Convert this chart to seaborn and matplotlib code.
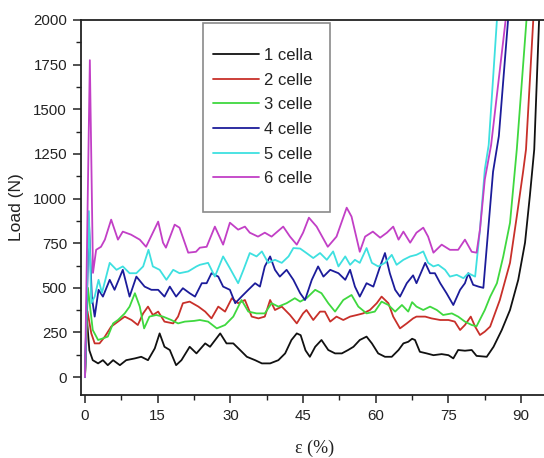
import numpy as np
import pandas as pd
import matplotlib
matplotlib.use("Agg")
import matplotlib.pyplot as plt
from matplotlib.patches import Rectangle
from matplotlib.ticker import MultipleLocator
import seaborn as sns

# ---- compression curves: strain (%) vs load (N) ----
series_names = ["1 cella", "2 celle", "3 celle", "4 celle", "5 celle", "6 celle"]

strain_1 = [0, 0.3, 0.9, 1.6, 2.7, 3.7, 4.7, 5.8, 7.2, 8.5, 10.3, 11.6, 13.0, 14.4, 15.4, 16.4, 17.5, 18.8,
            19.9, 21.6, 23.0, 24.8, 25.8, 27.9, 29.2, 30.6, 32.0, 33.4, 35.1, 36.5, 38.2, 39.9, 41.3, 42.6,
            43.7, 44.5, 45.5, 46.4, 47.5, 48.8, 50.2, 51.6, 53.0, 54.3, 55.4, 56.7, 58.1, 59.2, 60.5, 61.9,
            63.3, 64.7, 65.7, 66.7, 67.5, 68.1, 69.1, 70.5, 71.9, 73.6, 75.0, 76.0, 77.0, 78.4, 79.8, 80.8,
            82.9, 84.3, 86.0, 87.7, 89.4, 90.8, 91.8, 92.7, 93.7]
load_1 = [0, 360, 150, 95, 77, 95, 67, 95, 67, 95, 105, 114, 95, 161, 245, 170, 152, 67,
          95, 170, 133, 189, 170, 245, 189, 189, 152, 114, 95, 77, 77, 95, 133, 208,
          245, 235, 150, 114, 170, 208, 152, 133, 133, 152, 170, 208, 227, 189, 133, 114,
          114, 152, 189, 198, 215, 208, 142, 133, 123, 129, 123, 105, 152, 148, 152, 119,
          114, 170, 264, 376, 545, 753, 1016, 1275, 2000]

strain_2 = [0, 0.5, 1.3, 2.0, 3.0, 4.1, 5.4, 6.8, 8.2, 9.6, 10.9, 12.0, 13.0, 14.0, 15.1, 16.4, 18.2, 19.2,
            20.2, 21.6, 23.4, 24.8, 26.1, 27.5, 28.9, 30.3, 31.6, 33.0, 34.4, 35.8, 37.1, 38.2, 39.2, 40.6,
            42.3, 43.7, 45.0, 45.7, 47.1, 48.5, 49.5, 50.6, 51.9, 53.3, 54.7, 56.1, 57.4, 58.8, 60.2, 61.2,
            62.6, 63.6, 65.0, 66.4, 67.7, 68.4, 70.2, 71.5, 73.3, 75.0, 76.3, 77.4, 78.4, 79.6, 80.5, 81.5,
            82.5, 83.6, 85.6, 87.7, 89.1, 90.4, 91.0, 92.5]
load_2 = [0, 370, 245, 189, 189, 227, 283, 311, 339, 320, 292, 357, 395, 348, 367, 311, 301, 339,
          414, 423, 395, 367, 329, 395, 367, 442, 414, 432, 339, 329, 339, 432, 376, 395,
          348, 301, 357, 376, 320, 367, 367, 311, 339, 320, 339, 348, 357, 376, 414, 451,
          414, 339, 273, 301, 329, 339, 339, 329, 320, 320, 311, 264, 292, 339, 283, 236,
          255, 283, 432, 640, 900, 1150, 1275, 2000]

strain_3 = [0, 0.6, 1.6, 2.7, 3.7, 4.7, 5.8, 6.8, 8.2, 9.2, 10.3, 11.3, 12.2, 13.3, 14.7, 16.1, 17.8, 19.2,
            20.6, 22.5, 23.7, 25.4, 27.2, 28.9, 30.6, 32.3, 33.7, 35.4, 37.1, 38.5, 39.9, 41.6, 43.3, 44.4,
            45.7, 47.5, 48.8, 50.2, 51.6, 53.3, 55.0, 56.4, 58.1, 59.8, 61.2, 62.6, 64.0, 65.4, 66.7, 67.5,
            68.4, 69.8, 71.2, 72.6, 73.9, 75.7, 77.0, 78.4, 79.8, 80.8, 82.5, 83.6, 85.0, 86.3, 87.7, 89.1,
            91.1]
load_3 = [0, 500, 264, 208, 217, 227, 301, 320, 357, 395, 470, 395, 273, 339, 348, 339, 320, 301,
          311, 315, 320, 311, 273, 292, 339, 432, 367, 357, 357, 414, 395, 414, 442, 423,
          442, 489, 470, 414, 367, 432, 460, 395, 357, 367, 423, 404, 367, 404, 367, 420,
          395, 376, 395, 376, 348, 357, 339, 311, 292, 285, 376, 450, 526, 675, 864, 1275,
          2000]

strain_4 = [0, 0.8, 1.4, 2.0, 2.8, 3.7, 5.1, 6.1, 7.8, 9.2, 10.6, 12.3, 13.7, 15.1, 16.4, 17.5, 18.8, 20.2,
            21.6, 22.7, 24.1, 25.1, 26.1, 27.5, 28.5, 29.9, 31.0, 32.3, 33.7, 35.1, 36.1, 37.1, 38.2, 39.2,
            40.2, 41.6, 43.0, 44.4, 45.4, 46.8, 48.1, 49.2, 50.6, 52.3, 53.7, 54.7, 55.7, 56.7, 58.1, 59.5,
            60.9, 61.9, 62.9, 64.0, 65.0, 66.4, 67.7, 68.4, 70.2, 71.2, 72.2, 73.3, 74.6, 76.0, 77.4, 78.4,
            79.1, 80.1, 81.2, 82.2, 84.2, 85.4, 87.3]
load_4 = [0, 880, 450, 339, 489, 451, 545, 489, 601, 451, 563, 507, 489, 489, 451, 507, 451, 498,
          470, 451, 526, 526, 582, 563, 507, 489, 414, 451, 489, 526, 507, 620, 676, 601,
          563, 601, 545, 470, 432, 545, 620, 563, 601, 582, 545, 601, 507, 451, 526, 507,
          620, 695, 582, 489, 451, 526, 570, 526, 640, 582, 582, 526, 470, 404, 489, 526,
          582, 517, 507, 500, 1150, 1350, 2000]

strain_5 = [0, 0.8, 1.3, 2.0, 2.8, 3.5, 5.1, 6.5, 7.8, 9.2, 10.6, 12.0, 13.1, 14.0, 15.4, 16.8, 18.2, 19.5,
            21.3, 23.0, 23.7, 25.4, 26.8, 28.5, 29.9, 31.6, 32.7, 34.0, 35.4, 36.5, 37.8, 39.2, 40.6, 42.0,
            43.0, 44.4, 45.7, 47.1, 48.5, 49.9, 51.2, 52.3, 53.7, 54.7, 55.7, 56.7, 58.1, 59.2, 60.5, 61.9,
            63.3, 64.3, 65.7, 67.1, 68.4, 69.8, 70.8, 71.9, 72.9, 74.3, 75.3, 76.7, 78.1, 79.1, 80.5, 81.5,
            82.5, 83.3, 85.0]
load_5 = [0, 930, 414, 451, 545, 472, 640, 601, 620, 582, 582, 620, 713, 620, 601, 545, 601, 582,
          592, 620, 629, 640, 563, 676, 610, 526, 601, 695, 676, 704, 640, 657, 640, 676,
          723, 720, 695, 667, 695, 657, 704, 620, 676, 629, 657, 640, 723, 640, 620, 640,
          685, 629, 657, 676, 685, 704, 640, 620, 629, 601, 563, 573, 554, 582, 563, 826,
          1163, 1300, 2000]

strain_6 = [0, 1.0, 1.65, 2.3, 3.3, 4.1, 5.4, 6.8, 7.8, 9.5, 11.3, 12.6, 15.1, 16.1, 16.7, 18.5, 19.5, 21.3,
            22.9, 23.7, 25.1, 26.8, 28.5, 29.9, 31.6, 33.0, 34.0, 35.7, 37.1, 38.5, 40.9, 42.3, 43.7, 45.0,
            46.2, 47.8, 50.1, 51.9, 54.0, 55.0, 56.7, 57.8, 59.4, 60.9, 62.3, 63.6, 64.7, 65.7, 67.1, 68.4,
            69.8, 70.8, 71.9, 73.6, 75.3, 77.0, 78.4, 79.8, 80.8, 81.5, 82.5, 83.8, 86.8]
load_6 = [0, 1775, 584, 713, 730, 770, 882, 770, 815, 798, 770, 730, 871, 753, 725, 854, 837, 697,
          702, 725, 730, 843, 742, 865, 826, 843, 809, 787, 809, 787, 843, 787, 742, 809,
          893, 843, 730, 787, 949, 899, 702, 787, 815, 781, 809, 843, 770, 815, 753, 809,
          837, 787, 697, 742, 713, 713, 770, 702, 697, 826, 1107, 1300, 2000]

strains = [strain_1, strain_2, strain_3, strain_4, strain_5, strain_6]
loads = [load_1, load_2, load_3, load_4, load_5, load_6]

x_ticks = [0, 15, 30, 45, 60, 75, 90]
y_ticks = [0, 250, 500, 750, 1000, 1250, 1500, 1750, 2000]

colors = ["#111111", "#c8302a", "#3fd83f", "#1c1c9a", "#3ee0e0", "#c23fc6"]

frames = []
for name, xs, ys in zip(series_names, strains, loads):
    frames.append(pd.DataFrame({"strain": xs, "load": ys, "series": name}))
df = pd.concat(frames, ignore_index=True)

sns.set_style("ticks")
plt.rcParams["font.family"] = ["Liberation Sans", "DejaVu Sans"]

fig = plt.figure(figsize=(5.44, 4.58), dpi=100)
ax = fig.add_axes([81 / 544, 1 - 395 / 458, 467 / 544, 375 / 458])

sns.lineplot(data=df, x="strain", y="load", hue="series", hue_order=series_names,
             palette=dict(zip(series_names, colors)), estimator=None, sort=False,
             linewidth=1.3, legend=False, ax=ax)

ax.set_xlim(-0.825, 95.54)
ax.set_ylim(-100, 2000)
ax.set_xticks(x_ticks)
ax.set_yticks(y_ticks)
ax.xaxis.set_minor_locator(MultipleLocator(7.5))
ax.yaxis.set_minor_locator(MultipleLocator(125))
ax.tick_params(which="major", direction="out", length=6, width=1.1, labelsize=10.8,
               colors="#222222", pad=4)
ax.tick_params(which="minor", direction="out", length=3.5, width=1.0, colors="#222222")
ax.tick_params(top=False, right=False, which="both")
for side in ["left", "bottom", "top", "right"]:
    ax.spines[side].set_color("#222222")
    ax.spines[side].set_linewidth(1.3)

ax.set_ylabel("Load (N)", fontsize=12.5, color="#222222", labelpad=7)
ax.set_xlabel("ε (%)", fontsize=13, color="#222222", labelpad=12,
              family=["Liberation Serif", "DejaVu Serif"])

# legend box
handles = ax.get_lines()[:len(series_names)]
leg = ax.legend(handles, series_names, loc="upper left", frameon=False,
                bbox_to_anchor=(213 / 544, 1 - 48 / 458), bbox_transform=fig.transFigure,
                fontsize=12, handlelength=2.75, handletextpad=0.3, labelspacing=0.58,
                borderpad=0.0, borderaxespad=0.0)
for text in leg.get_texts():
    text.set_color("#222222")
fig.patches.append(Rectangle((203 / 544, 1 - 212 / 458), 127 / 544, 189 / 458,
                             transform=fig.transFigure, fill=False,
                             edgecolor="#8a8a8a", linewidth=1.2, zorder=5))

fig.savefig("out.png", dpi=100)
